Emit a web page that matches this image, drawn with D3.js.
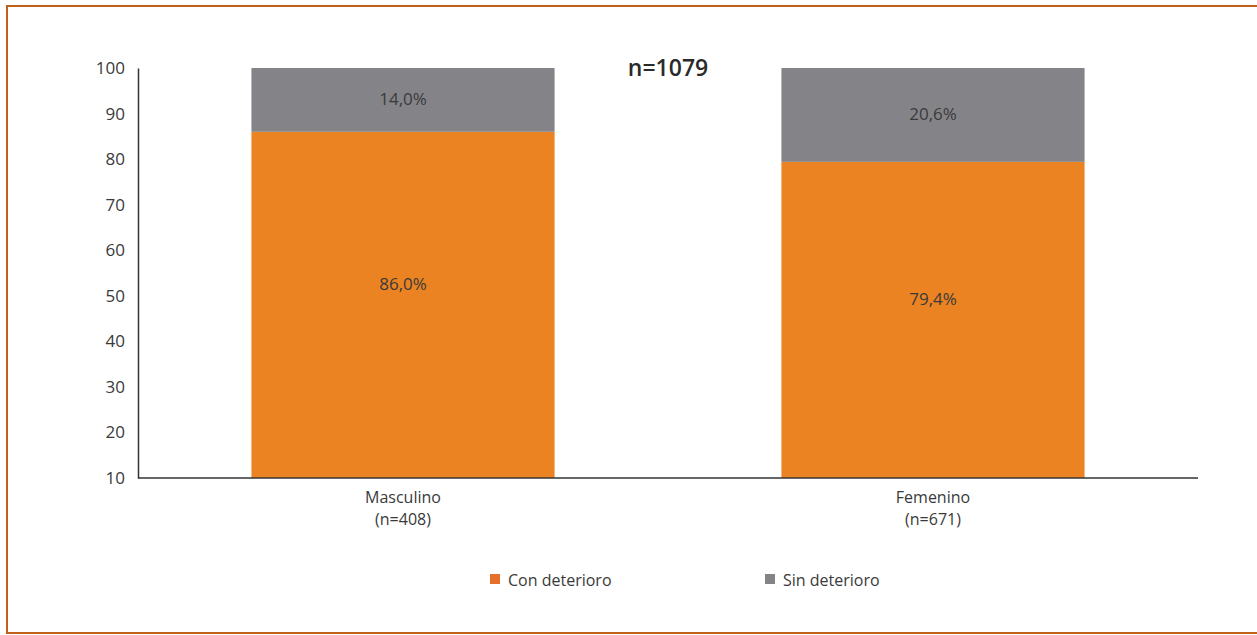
<!DOCTYPE html>
<html>
<head>
<meta charset="utf-8">
<script src="https://cdn.jsdelivr.net/npm/d3@7"></script>
<style>
  body { margin: 0; background: #fff; }
  svg { display: block; font-family: "Open Sans", "DejaVu Sans", sans-serif; }
</style>
</head>
<body>
<svg id="chart" width="1257" height="635"></svg>
<script>
var categories = ['Masculino', 'Femenino'];
var catN = ['(n=408)', '(n=671)'];
var conDeterioro = [86.0, 79.4];
var sinDeterioro = [14.0, 20.6];
var seriesNames = ['Con deterioro', 'Sin deterioro'];
var yTicks = [10, 20, 30, 40, 50, 60, 70, 80, 90, 100];
var totalLabel = 'n=1079';

var colors = ['#eb8323', '#848488'];
var legendColors = ['#e5702a', '#848488'];
var svg = d3.select('#chart');
var m = {left: 138, right: 1198, top: 68, bottom: 478};

// frame
svg.append('rect').attr('x', 7).attr('y', 6).attr('width', 1265).attr('height', 627)
  .attr('fill', 'none').attr('stroke', '#c0601a').attr('stroke-width', 2);

var x = d3.scaleBand().domain(categories).range([m.left, m.right])
  .paddingInner(0.428).paddingOuter(0.214);
var y = d3.scaleLinear().domain([10, 100]).range([m.bottom, m.top]);

var rows = categories.map(function(c, i){
  return {key: c, con: conDeterioro[i], sin: sinDeterioro[i]};
});

var g = svg.append('g');
g.selectAll('rect.con').data(rows).enter().append('rect').attr('class', 'con')
  .attr('x', function(d){ return x(d.key); })
  .attr('width', x.bandwidth())
  .attr('y', function(d){ return y(d.con); })
  .attr('height', function(d){ return y(10) - y(d.con); })
  .attr('fill', colors[0]);
g.selectAll('rect.sin').data(rows).enter().append('rect').attr('class', 'sin')
  .attr('x', function(d){ return x(d.key); })
  .attr('width', x.bandwidth())
  .attr('y', function(d){ return y(d.con + d.sin); })
  .attr('height', function(d){ return y(d.con) - y(d.con + d.sin); })
  .attr('fill', colors[1]);

var fmt = function(v){ return v.toFixed(1).replace('.', ',') + '%'; };
g.selectAll('text.con').data(rows).enter().append('text')
  .attr('x', function(d){ return x(d.key) + x.bandwidth() / 2; })
  .attr('y', function(d){ return (y(d.con) + y(10)) / 2 - 21; })
  .attr('text-anchor', 'middle').attr('dominant-baseline', 'central')
  .attr('font-size', 17).attr('fill', '#3a3a3a')
  .text(function(d){ return fmt(d.con); });
g.selectAll('text.sin').data(rows).enter().append('text')
  .attr('x', function(d){ return x(d.key) + x.bandwidth() / 2; })
  .attr('y', function(d){ return (y(d.con) + y(100)) / 2 - 1; })
  .attr('text-anchor', 'middle').attr('dominant-baseline', 'central')
  .attr('font-size', 17).attr('fill', '#3a3a3a')
  .text(function(d){ return fmt(d.sin); });

// axes
var yAxis = d3.axisLeft(y).tickValues(yTicks).tickSize(0).tickPadding(13);
var ya = svg.append('g').attr('transform', 'translate(' + m.left + ',0)').call(yAxis);
ya.select('.domain').attr('stroke', '#333').attr('stroke-width', 1.5);
ya.selectAll('text').attr('font-size', 17).attr('fill', '#3a3a3a')
  .attr('font-family', '"Open Sans", sans-serif');

svg.append('line').attr('x1', m.left).attr('x2', m.right)
  .attr('y1', m.bottom).attr('y2', m.bottom)
  .attr('stroke', '#333').attr('stroke-width', 1.5);

var cl = svg.selectAll('text.cat').data(categories).enter().append('text').attr('class', 'cat')
  .attr('x', function(d){ return x(d) + x.bandwidth() / 2; })
  .attr('text-anchor', 'middle').attr('font-size', 16).attr('fill', '#3a3a3a');
cl.append('tspan').attr('x', function(d){ return x(d) + x.bandwidth() / 2; }).attr('y', 503)
  .text(function(d){ return d; });
cl.append('tspan').attr('x', function(d){ return x(d) + x.bandwidth() / 2; }).attr('y', 525)
  .text(function(d, i){ return catN[i]; });

svg.append('text').attr('x', 668).attr('y', 76).attr('text-anchor', 'middle')
  .attr('font-size', 23).attr('font-weight', 600).attr('fill', '#2a2a2a')
  .text(totalLabel);

// legend
var legX = [490, 765];
var lg = svg.selectAll('g.leg').data(seriesNames).enter().append('g')
  .attr('transform', function(d, i){ return 'translate(' + legX[i] + ',574)'; });
lg.append('rect').attr('width', 10).attr('height', 10)
  .attr('fill', function(d, i){ return legendColors[i]; });
lg.append('text').attr('x', 18).attr('y', 6).attr('dominant-baseline', 'central')
  .attr('font-size', 16).attr('fill', '#3a3a3a').text(function(d){ return d; });
</script>
</body>
</html>
